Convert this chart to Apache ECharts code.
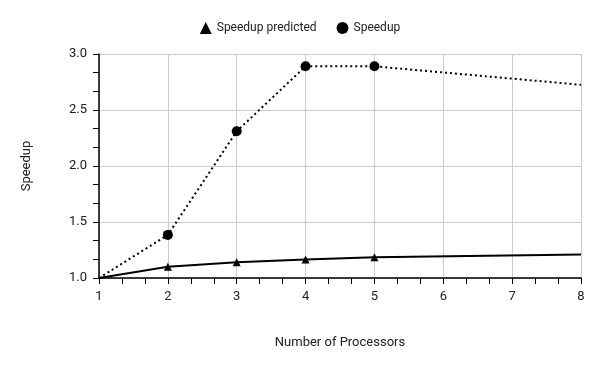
<!DOCTYPE html>
<html><head><meta charset="utf-8">
<script src="https://cdn.jsdelivr.net/npm/echarts@6/dist/echarts.min.js"></script>
<style>html,body{margin:0;padding:0;background:#fff}#c{width:600px;height:371px}</style>
</head><body><div id="c"></div>
<script>
const processors = [1, 2, 3, 4, 5, 8];
const speedupPredicted = [1.0, 1.10, 1.14, 1.165, 1.185, 1.21];
const speedup = [1.0, 1.385, 2.31, 2.89, 2.89, 2.725];
const markerCount = 5;

function build(vals) {
  return processors.map((x, i) => (i > 0 && i < markerCount) ? [x, vals[i]] : {value: [x, vals[i]], symbol: 'none'});
}
const chart = echarts.init(document.getElementById('c'), null, {renderer: 'canvas'});
const font = 'Roboto';
chart.setOption({
  animation: false,
  textStyle: {fontFamily: font},
  legend: {
    top: 17, left: 'center', itemGap: 20, itemWidth: 12, itemHeight: 12,
    textStyle: {fontFamily: font, fontSize: 12, color: '#222'},
    data: [{name: 'Speedup predicted', icon: 'triangle'}, {name: 'Speedup', icon: 'circle'}]
  },
  grid: {left: 99, right: 19, top: 54, bottom: 93, containLabel: false},
  xAxis: {
    type: 'value', min: 1, max: 8, interval: 1,
    name: 'Number of Processors', nameLocation: 'middle', nameGap: 58,
    nameTextStyle: {fontFamily: font, fontSize: 13, color: '#222'},
    axisLine: {show: true, onZero: false, lineStyle: {color: '#000', width: 1.5}},
    axisTick: {show: true, length: 6, lineStyle: {color: '#000'}},
    minorTick: {show: true, splitNumber: 3, length: 6, lineStyle: {color: '#000'}},
    axisLabel: {fontFamily: font, fontSize: 13, color: '#222', margin: 12},
    splitLine: {show: true, lineStyle: {color: '#ccc'}}
  },
  yAxis: {
    type: 'value', min: 1, max: 3, interval: 0.5,
    name: 'Speedup', nameLocation: 'middle', nameGap: 66,
    nameTextStyle: {fontFamily: font, fontSize: 13, color: '#222'},
    axisLine: {show: true, lineStyle: {color: '#000', width: 1.5}},
    axisTick: {show: true, length: 6, lineStyle: {color: '#000'}},
    minorTick: {show: true, splitNumber: 3, length: 6, lineStyle: {color: '#000'}},
    axisLabel: {fontFamily: font, fontSize: 13, color: '#222', margin: 12, formatter: v => v.toFixed(1)},
    splitLine: {show: true, lineStyle: {color: '#ccc'}}
  },
  series: [
    {
      name: 'Speedup predicted', type: 'line', data: build(speedupPredicted),
      symbol: 'triangle', symbolSize: 8, color: '#000',
      lineStyle: {color: '#000', width: 2, type: 'solid'},
      itemStyle: {color: '#000'}
    },
    {
      name: 'Speedup', type: 'line', data: build(speedup),
      symbol: 'circle', symbolSize: 10, color: '#000',
      lineStyle: {color: '#000', width: 2, type: [2, 3]},
      itemStyle: {color: '#000'}
    }
  ]
});
</script></body></html>
